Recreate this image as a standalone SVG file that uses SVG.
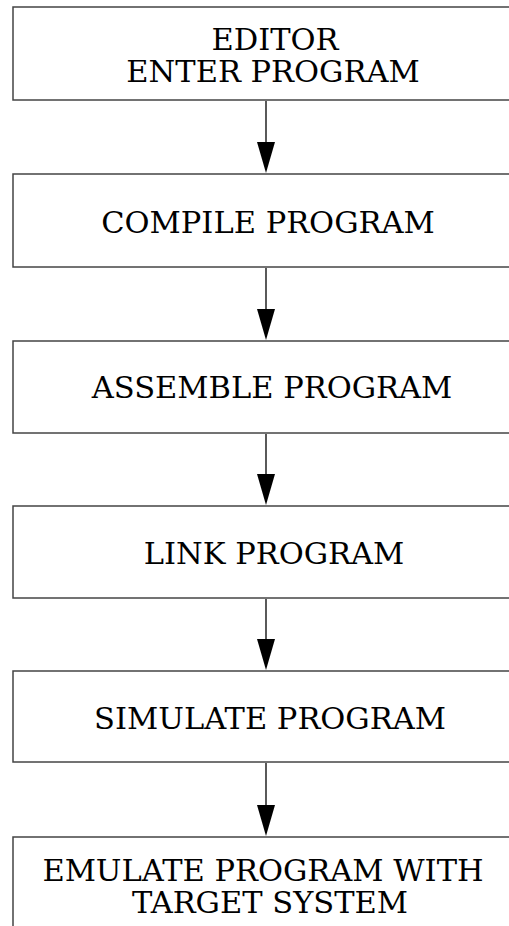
<svg xmlns="http://www.w3.org/2000/svg" width="509" height="926" viewBox="0 0 509 926">
<style>
.box{fill:#fff;stroke:#444;stroke-width:1.5}
.t{font-family:"DejaVu Serif",serif;font-size:30.5px;fill:#000;text-anchor:middle}
.c{stroke:#000;stroke-width:1.3;fill:none}
.ah{fill:#000}
</style>
<rect width="509" height="926" fill="#fff"/>
<g id="n1"><rect class="box" x="13" y="7" width="520" height="93"/><text class="t" x="275" y="50">EDITOR</text><text class="t" x="273" y="82">ENTER PROGRAM</text></g>
<g id="n2"><rect class="box" x="13" y="174" width="520" height="93"/><text class="t" x="268" y="233">COMPILE PROGRAM</text></g>
<g id="n3"><rect class="box" x="13" y="341" width="520" height="92"/><text class="t" x="272" y="398">ASSEMBLE PROGRAM</text></g>
<g id="n4"><rect class="box" x="13" y="506" width="520" height="92"/><text class="t" x="274" y="564">LINK PROGRAM</text></g>
<g id="n5"><rect class="box" x="13" y="671" width="520" height="91"/><text class="t" x="270" y="729">SIMULATE PROGRAM</text></g>
<g id="n6"><rect class="box" x="13" y="837" width="520" height="120"/><text class="t" x="263" y="881">EMULATE PROGRAM WITH</text><text class="t" x="270" y="913">TARGET SYSTEM</text></g>
<g id="connectors">
<line class="c" x1="266" y1="101" x2="266" y2="145"/><polygon class="ah" points="257,142 275,142 266,173"/>
<line class="c" x1="266" y1="268" x2="266" y2="312"/><polygon class="ah" points="257,309 275,309 266,340"/>
<line class="c" x1="266" y1="434" x2="266" y2="477"/><polygon class="ah" points="257,474 275,474 266,505"/>
<line class="c" x1="266" y1="599" x2="266" y2="642"/><polygon class="ah" points="257,639 275,639 266,670"/>
<line class="c" x1="266" y1="763" x2="266" y2="808"/><polygon class="ah" points="257,805 275,805 266,836"/>
</g>
</svg>
